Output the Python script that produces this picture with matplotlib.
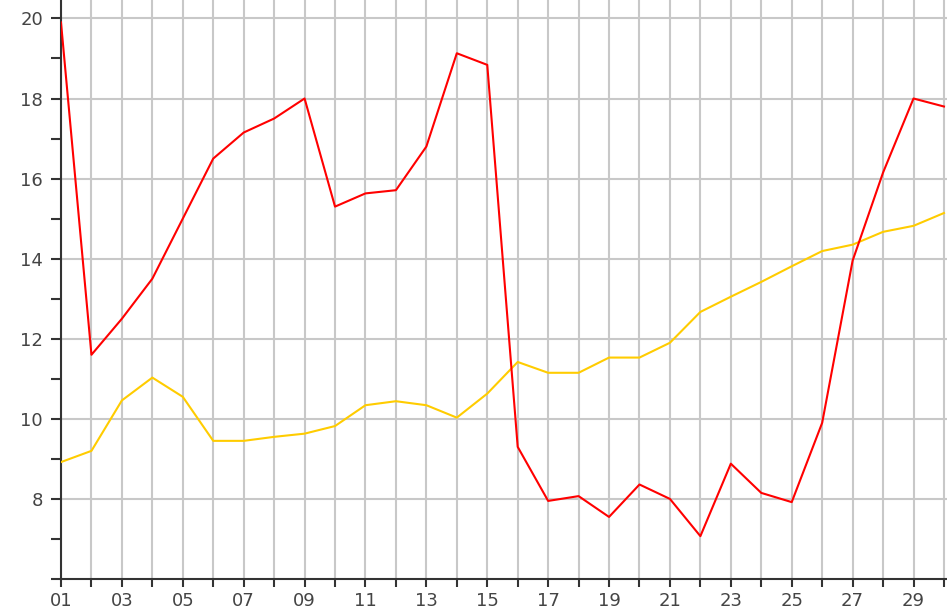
import matplotlib
matplotlib.use("Agg")
import matplotlib.pyplot as plt
from matplotlib.ticker import MultipleLocator

# Data (day of month -> value)
days = list(range(1, 31))
red_vals = [19.9, 11.6, 12.5, 13.5, 15.0, 16.5, 17.15, 17.5, 18.0, 15.3,
            15.63, 15.71, 16.8, 19.13, 18.84, 9.3, 7.95, 8.07, 7.55, 8.36,
            8.0, 7.07, 8.88, 8.15, 7.92, 9.9, 13.95, 16.15, 18.0, 17.8]
yellow_vals = [8.92, 9.2, 10.46, 11.03, 10.55, 9.45, 9.45, 9.55, 9.63, 9.82,
               10.34, 10.44, 10.34, 10.03, 10.63, 11.42, 11.15, 11.15, 11.53, 11.53,
               11.9, 12.67, 13.05, 13.42, 13.81, 14.19, 14.35, 14.67, 14.82, 15.14]
x_labels = ["%02d" % d if d % 2 == 1 else "" for d in days]
y_major = [8, 10, 12, 14, 16, 18, 20]

fig = plt.figure(figsize=(9.47, 6.14), dpi=100)
ax = fig.add_axes([61 / 947, 35 / 614, 886 / 947, 579 / 614])

ax.plot(days, yellow_vals, color="#ffcc00", lw=1.5, zorder=3)
ax.plot(days, red_vals, color="#ff0000", lw=1.5, zorder=4)

ax.set_xlim(1, 30.1)
ax.set_ylim(6, 20.46)

ax.set_xticks(days)
ax.set_xticklabels(x_labels)
ax.set_yticks(y_major)
ax.yaxis.set_minor_locator(MultipleLocator(1))

ax.grid(True, axis="x", which="major", color="#c8c8c8", lw=1.5)
ax.grid(True, axis="y", which="major", color="#c8c8c8", lw=1.5)
ax.set_axisbelow(True)

for side in ["top", "right"]:
    ax.spines[side].set_visible(False)
for side in ["left", "bottom"]:
    ax.spines[side].set_color("#333333")
    ax.spines[side].set_linewidth(1.5)

ax.tick_params(axis="both", which="both", colors="#333333", width=1.5,
               labelcolor="#444444", labelsize=13)
ax.tick_params(axis="y", which="both", length=7, pad=6)
ax.tick_params(axis="x", which="both", length=6, pad=3)

fig.savefig("out.png", dpi=100)
